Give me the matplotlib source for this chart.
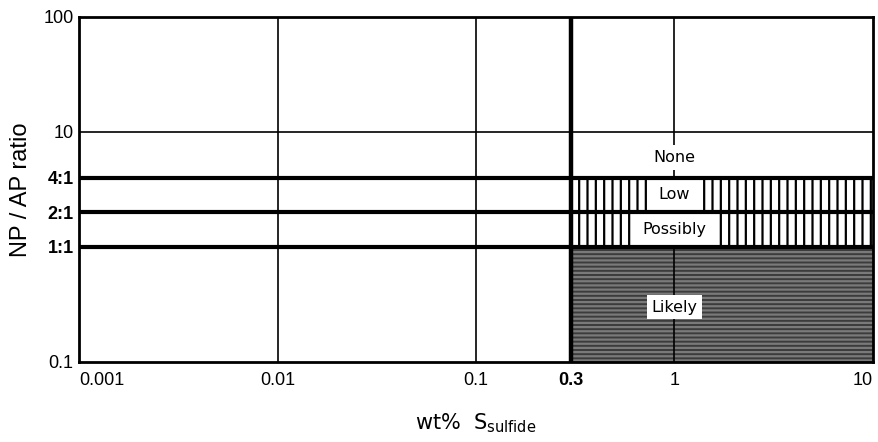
import matplotlib
matplotlib.use("Agg")
import matplotlib.pyplot as plt

# ---- data ----
x_ticks = [0.001, 0.01, 0.1, 0.3, 1, 10]
x_tick_labels = ["0.001", "0.01", "0.1", "0.3", "1", "10"]
y_ticks = [0.1, 1, 2, 4, 10, 100]
y_tick_labels = ["0.1", "1:1", "2:1", "4:1", "10", "100"]
ratio_lines = [1, 2, 4]
threshold_s = 0.3
zones = ["Likely", "Possibly", "Low", "None"]
zone_bounds = [(0.1, 1), (1, 2), (2, 4), (4, 100)]
zone_label_y = [0.3, 1.42, 2.83, 6.0]
zone_label_x = 1

fig = plt.figure(figsize=(8.79, 4.42), dpi=100)
ax = fig.add_axes([0.090, 0.181, 0.903, 0.781])
ax.set_xscale("log")
ax.set_yscale("log")
ax.set_xlim(0.001, 10)
ax.set_ylim(0.1, 100)

plt.rcParams['hatch.linewidth'] = 1.6
for name, (lo, hi) in zip(zones, zone_bounds):
    if name == "Likely":
        ax.fill_between([threshold_s, 10], lo, hi, facecolor="#3c3c3c",
                        edgecolor="#7a7a7a", hatch="----", linewidth=0, zorder=1)
    elif name in ("Low", "Possibly"):
        ax.fill_between([threshold_s, 10], lo, hi, facecolor="white",
                        edgecolor="black", hatch="||", linewidth=0, zorder=1)

for xv in [0.01, 0.1, 1]:
    ax.axvline(xv, color="black", lw=1.2, zorder=2)
ax.axhline(10, color="black", lw=1.2, zorder=2)
ax.axvline(threshold_s, color="black", lw=3.2, zorder=6)
for yv in ratio_lines:
    ax.axhline(yv, color="black", lw=3.0, zorder=6)

for name, yv in zip(zones, zone_label_y):
    pad = 0.55 if name in ("Low", "Possibly") else 0.3
    ax.text(zone_label_x, yv, name, ha="center", va="center", fontsize=11.5,
            zorder=5,
            bbox=dict(boxstyle=f"square,pad={pad}", facecolor="white", edgecolor="none"))

for s in ax.spines.values():
    s.set_linewidth(2.0)
    s.set_zorder(7)

ax.set_xticks(x_ticks)
ax.set_xticklabels(x_tick_labels)
ax.set_yticks(y_ticks)
ax.set_yticklabels(y_tick_labels)
ax.minorticks_off()
ax.tick_params(axis="x", length=0, pad=7)
ax.tick_params(axis="y", length=0, pad=4)
xl = ax.get_xticklabels()
for lab in xl:
    lab.set_family("Liberation Sans")
    lab.set_fontsize(13)
    lab.set_fontweight("bold" if lab.get_text() == "0.3" else "normal")
xl[0].set_ha("left")
xl[-1].set_ha("right")
for lab in ax.get_yticklabels():
    lab.set_family("Liberation Sans")
    lab.set_fontsize(13)
    lab.set_fontweight("bold" if ":" in lab.get_text() else "normal")

ax.set_ylabel("NP / AP ratio", fontsize=17, family="Liberation Sans", labelpad=8)
ax.set_xlabel(r"wt%  S$_{\mathregular{sulfide}}$", fontsize=15, labelpad=16)

fig.savefig("out.png", dpi=100)
